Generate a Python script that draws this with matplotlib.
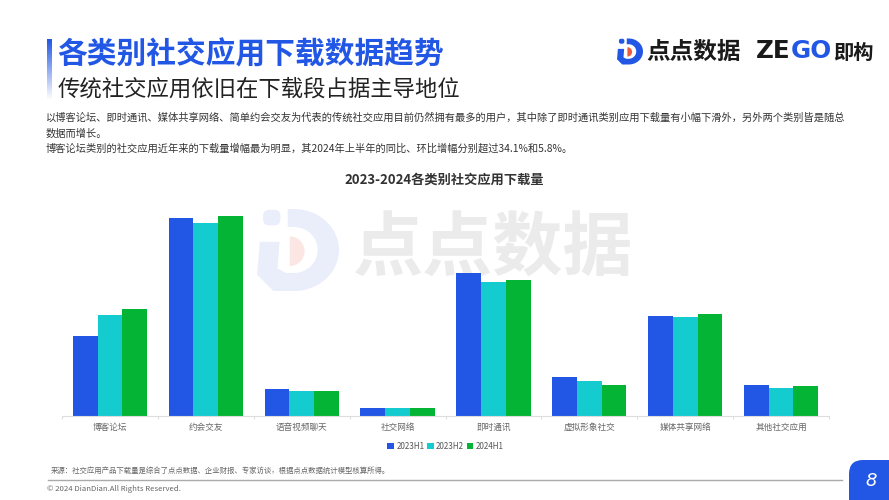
import numpy as np
import matplotlib

import matplotlib.pyplot as plt
from matplotlib.patches import FancyBboxPatch, PathPatch, Wedge
from matplotlib.path import Path

matplotlib.use('Agg')

plt.rcParams['font.family'] = ['Noto Sans CJK SC', 'DejaVu Sans']

categories = ['博客论坛', '约会交友', '语音视频聊天', '社交网络', '即时通讯', '虚拟形象社交', '媒体共享网络', '其他社交应用']
h1_2023 = [80, 198, 27, 8, 143, 39, 100, 31]
h2_2023 = [101, 193, 25, 8, 134, 35, 99, 28]
h1_2024 = [107, 200, 25, 8, 136, 31, 102, 30]
series_names = ['2023H1', '2023H2', '2024H1']
series_colors = ['#2257E6', '#14CBD0', '#04B535']

title = '各类别社交应用下载数据趋势'
subtitle = '传统社交应用依旧在下载段占据主导地位'
body_lines = [
    '以博客论坛、即时通讯、媒体共享网络、简单约会交友为代表的传统社交应用目前仍然拥有最多的用户，其中除了即时通讯类别应用下载量有小幅下滑外，另外两个类别皆是随总',
    '数据而增长。',
    '博客论坛类别的社交应用近年来的下载量增幅最为明显，其2024年上半年的同比、环比增幅分别超过34.1%和5.8%。',
]
chart_title = '2023-2024各类别社交应用下载量'
source_text = '来源：社交应用产品下载量是综合了点点数据、企业财报、专家访谈，根据点点数据统计模型核算所得。'
footer_text = '© 2024 DianDian.All Rights Reserved.'


def draw_logo(ax, cx, cy, r, blue, red):
    # outline of the D with its stem, y points down on the page
    arc = np.radians(np.linspace(90, -90, 40))
    outer = [(cx - 0.1 * r + 1.1 * r * np.cos(a), cy - r * np.sin(a)) for a in arc]
    inner = [(cx - 0.1 * r + 0.58 * r * np.cos(a), cy - 0.56 * r * np.sin(a)) for a in arc[::-1]]
    pts = outer + [
        (cx - 0.6 * r, cy + r),
        (cx - r, cy + 0.6 * r),
        (cx - 0.93 * r, cy - 0.2 * r),
        (cx - 0.45 * r, cy - 0.2 * r),
        (cx - 0.5 * r, cy + 0.45 * r),
        (cx - 0.3 * r, cy + 0.56 * r),
    ] + inner + [
        (cx - 0.25 * r, cy - 0.56 * r),
        (cx - 0.25 * r, cy - r),
    ]
    ax.add_patch(PathPatch(Path(pts + [pts[0]], closed=True), color=blue, lw=0))
    # dot of the i
    ax.add_patch(FancyBboxPatch((cx - 0.85 * r, cy - 0.98 * r), 0.42 * r, 0.38 * r,
                                boxstyle=f'round,pad=0,rounding_size={0.15 * r}', color=blue, lw=0))
    ax.add_patch(Wedge((cx - 0.2 * r, cy + 0.03 * r), 0.36 * r, -90, 90, color=red, lw=0))


fig = plt.figure(figsize=(8.89, 5), dpi=100)

# whole page in pixel coordinates, for everything around the chart
page = fig.add_axes([0, 0, 1, 1], zorder=0)
page.axis('off')

gradient = np.linspace(0, 1, 64).reshape(-1, 1)
cmap = matplotlib.colors.LinearSegmentedColormap.from_list('bar', ['#2257E6', '#FFFFFF'])
page.imshow(gradient, extent=(47, 52, 100, 39), cmap=cmap, aspect='auto', zorder=1)
page.set_xlim(0, 889)
page.set_ylim(500, 0)

page.text(57, 54, title, fontsize=21.4, fontweight='bold', color='#2257E6', va='center')
page.text(58, 89, subtitle, fontsize=16.1, color='#222222', va='center')
for y, line in zip([118, 134, 149], body_lines):
    page.text(46, y, line, fontsize=7.39, color='#333333', va='center')
page.text(444.5, 180, chart_title, fontsize=9.5, fontweight='bold', color='#333333', ha='center', va='center')

# logo top right
draw_logo(page, 630, 51.5, 13, '#2257E6', '#EE5A3C')
page.text(646, 52, '点点数据', fontsize=17, fontweight='bold', color='#1A1A1A', va='center')
page.text(756, 51, 'ZE', fontsize=17.7, fontweight='bold', color='#1A1A1A', va='center', family='DejaVu Sans')
page.text(791, 51, 'GO', fontsize=17.7, fontweight='bold', color='#2257E6', va='center', family='DejaVu Sans')
page.text(833, 52, '即构', fontsize=14.6, fontweight='bold', color='#1A1A1A', va='center')

# watermark behind the bars
draw_logo(page, 298, 250, 41, '#E9EEFA', '#FBE6E3')
page.text(353, 250, '点点数据', fontsize=50.5, fontweight='bold', color='#EBEBEB', va='center')

# bottom of the page
page.text(51, 471, source_text, fontsize=5.33, color='#666666', va='center')
page.plot([48, 842], [480, 480], color='#AAAAAA', lw=1)
page.text(47, 489, footer_text, fontsize=5.6, color='#666666', va='center')
page.add_patch(FancyBboxPatch((849, 460), 60, 60, boxstyle='round,pad=0,rounding_size=14', color='#2257E6', lw=0))
page.text(871, 481, '8', fontsize=13, style='italic', color='white', ha='center', va='center', family='DejaVu Sans')

# chart: one axes unit is about one pixel of bar height
ax = fig.add_axes([62 / 889, (500 - 416) / 500, 767 / 889, 216 / 500], zorder=2)
ax.patch.set_alpha(0)
x = np.arange(len(categories))
width = 0.258
for i, (values, name, color) in enumerate(zip([h1_2023, h2_2023, h1_2024], series_names, series_colors)):
    ax.bar(x + (i - 1) * width, values, width, color=color, label=name)

ax.set_xlim(-0.5, len(categories) - 0.5)
ax.set_ylim(0, 216)
ax.set_xticks(x)
ax.set_xticklabels(categories, fontsize=6.2, color='#666666')
ax.set_xticks(np.arange(len(categories) + 1) - 0.5, minor=True)
ax.tick_params(axis='x', which='major', length=0, pad=5)
ax.tick_params(axis='x', which='minor', length=2, color='#DDDDDD', width=0.8)
ax.set_yticks([])
for side in ['top', 'left', 'right']:
    ax.spines[side].set_visible(False)
ax.spines['bottom'].set_color('#DDDDDD')

ax.legend(loc='center', bbox_to_anchor=(0.5, -0.141), ncol=3, frameon=False, fontsize=5.8,
          labelcolor='#555555', handlelength=0.85, handleheight=0.85, handletextpad=0.3,
          columnspacing=0.3, borderpad=0)

fig.savefig('out.png', dpi=100)
